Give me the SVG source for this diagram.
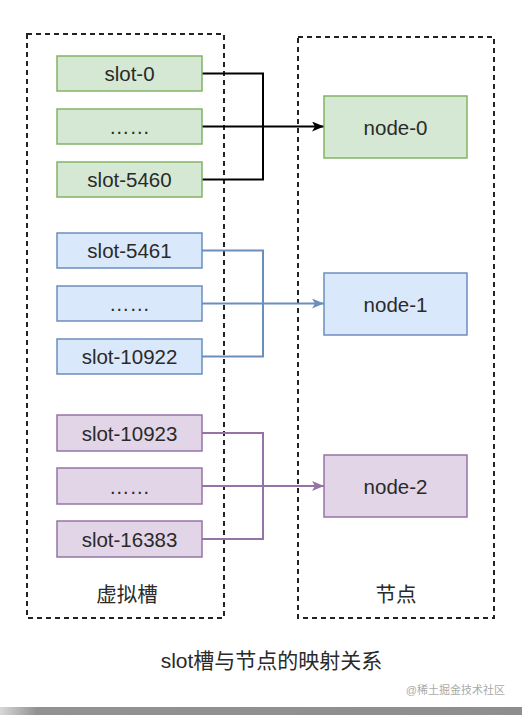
<svg xmlns="http://www.w3.org/2000/svg" width="522" height="715" viewBox="0 0 522 715">
<style>
.t{font-family:"Liberation Sans",Arial,sans-serif;font-size:20.5px;fill:#2a2a2a;text-anchor:middle;dominant-baseline:central}
.cjk{font-family:"Liberation Sans","Noto Sans CJK SC",sans-serif;fill:#2a2a2a;text-anchor:middle}
.g{fill:#d5e8d4;stroke:#82b366;stroke-width:1.5}
.b{fill:#dae8fc;stroke:#6c8ebf;stroke-width:1.5}
.p{fill:#e1d5e7;stroke:#9673a6;stroke-width:1.5}
.dash{fill:none;stroke:#222;stroke-width:2;stroke-dasharray:5 4}
.c{fill:none;stroke-width:2}
</style>
<defs>
<marker id="ak" viewBox="0 0 12 10" refX="12" refY="5" markerWidth="12" markerHeight="10" markerUnits="userSpaceOnUse" orient="auto"><path d="M0,0 L12,5 L0,10 L3,5 Z" fill="#000"/></marker>
<marker id="ab" viewBox="0 0 12 10" refX="12" refY="5" markerWidth="12" markerHeight="10" markerUnits="userSpaceOnUse" orient="auto"><path d="M0,0 L12,5 L0,10 L3,5 Z" fill="#6c8ebf"/></marker>
<marker id="ap" viewBox="0 0 12 10" refX="12" refY="5" markerWidth="12" markerHeight="10" markerUnits="userSpaceOnUse" orient="auto"><path d="M0,0 L12,5 L0,10 L3,5 Z" fill="#9673a6"/></marker>
<linearGradient id="bar" x1="0" y1="0" x2="1" y2="0">
<stop offset="0" stop-color="#d8d8d8"/><stop offset="0.07" stop-color="#929292"/><stop offset="1" stop-color="#8e8e8e"/>
</linearGradient>
</defs>
<rect width="522" height="715" fill="#fff"/>
<g id="group-slots"><rect class="dash" x="27" y="34" width="197" height="584"/><text class="cjk" x="127" y="602" font-size="20.5">虚拟槽</text></g>
<g id="group-nodes"><rect class="dash" x="298" y="37" width="196" height="581"/><text class="cjk" x="396" y="602" font-size="20.5">节点</text></g>
<g id="connectors">
<path class="c" stroke="#000" d="M202,73.5 H263 V179.5 H202"/>
<path class="c" stroke="#000" d="M202,126.5 H324" marker-end="url(#ak)"/>
<path class="c" stroke="#6c8ebf" stroke-width="1.5" d="M202,250.5 H263 V356.5 H202"/>
<path class="c" stroke="#6c8ebf" stroke-width="1.5" d="M202,303.5 H324" marker-end="url(#ab)"/>
<path class="c" stroke="#9673a6" stroke-width="1.5" d="M202,433 H263 V539 H202"/>
<path class="c" stroke="#9673a6" stroke-width="1.5" d="M202,486 H324" marker-end="url(#ap)"/>
</g>
<g id="slot-0"><rect class="g" x="57" y="56" width="145" height="35"/><text class="t" x="129.5" y="73.5">slot-0</text></g>
<g id="slot-g-mid"><rect class="g" x="57" y="109" width="145" height="35"/><text class="t" x="129.5" y="126.5">……</text></g>
<g id="slot-5460"><rect class="g" x="57" y="162" width="145" height="35"/><text class="t" x="129.5" y="179.5">slot-5460</text></g>
<g id="slot-5461"><rect class="b" x="57" y="233" width="145" height="35"/><text class="t" x="129.5" y="250.5">slot-5461</text></g>
<g id="slot-b-mid"><rect class="b" x="57" y="286" width="145" height="35"/><text class="t" x="129.5" y="303.5">……</text></g>
<g id="slot-10922"><rect class="b" x="57" y="339" width="145" height="35"/><text class="t" x="129.5" y="356.5">slot-10922</text></g>
<g id="slot-10923"><rect class="p" x="57" y="415" width="145" height="36"/><text class="t" x="129.5" y="433">slot-10923</text></g>
<g id="slot-p-mid"><rect class="p" x="57" y="468" width="145" height="36"/><text class="t" x="129.5" y="486">……</text></g>
<g id="slot-16383"><rect class="p" x="57" y="521" width="145" height="36"/><text class="t" x="129.5" y="539">slot-16383</text></g>
<g id="node-0"><rect class="g" x="324" y="96" width="143" height="62"/><text class="t" x="395.5" y="127">node-0</text></g>
<g id="node-1"><rect class="b" x="324" y="273" width="143" height="62"/><text class="t" x="395.5" y="304">node-1</text></g>
<g id="node-2"><rect class="p" x="324" y="455" width="143" height="62"/><text class="t" x="395.5" y="486">node-2</text></g>
<g id="caption"><text class="cjk" x="271.5" y="668" font-size="21" fill="#333">slot槽与节点的映射关系</text></g>
<g id="watermark"><text x="505" y="694" font-family="'Liberation Sans','Noto Sans CJK SC',sans-serif" font-size="11" fill="#aaa" text-anchor="end">@稀土掘金技术社区</text></g>
<rect x="0" y="707" width="522" height="8" fill="url(#bar)"/>
</svg>
